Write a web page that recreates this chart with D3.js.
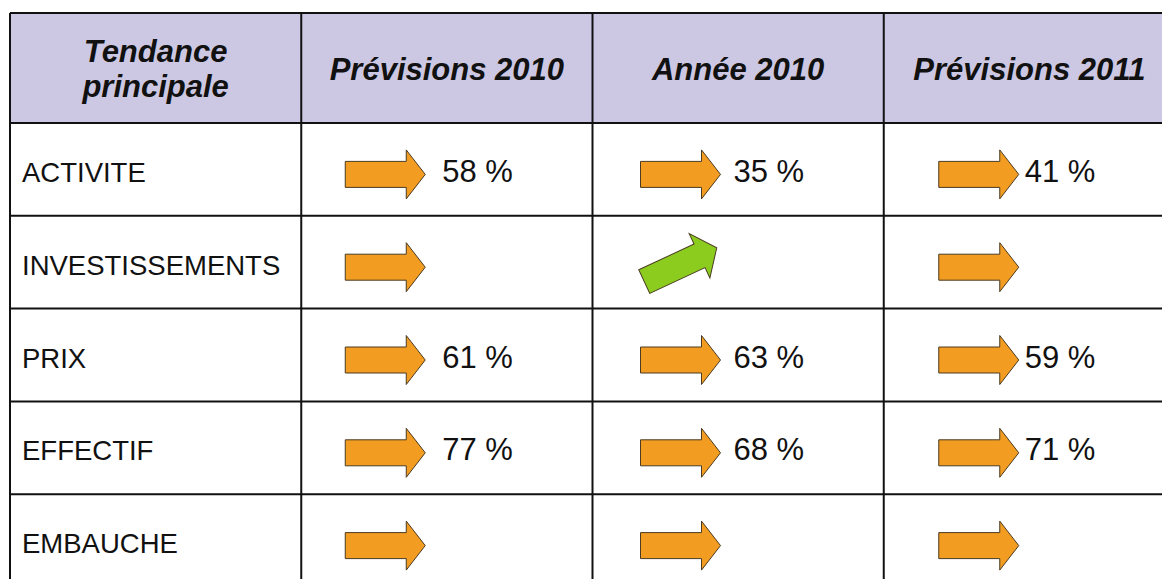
<!DOCTYPE html>
<html>
<head>
<meta charset="utf-8">
<script src="https://cdn.jsdelivr.net/npm/d3@7"></script>
<style>
  body { margin: 0; background: #fff; }
  text { font-family: "Liberation Sans", Arial, sans-serif; fill: #111; }
</style>
</head>
<body>
<div id="chart"></div>
<script>
// table content
const headers = ["Tendance principale", "Prévisions 2010", "Année 2010", "Prévisions 2011"];
const rows = ["ACTIVITE", "INVESTISSEMENTS", "PRIX", "EFFECTIF", "EMBAUCHE"];
const prev2010 = [58, null, 61, 77, null];
const annee2010 = [35, null, 63, 68, null];
const prev2011 = [41, null, 59, 71, null];
// trend per cell: "stable" = horizontal arrow, "hausse" = rising arrow
const trend2010p = ["stable", "stable", "stable", "stable", "stable"];
const trend2010 = ["stable", "hausse", "stable", "stable", "stable"];
const trend2011p = ["stable", "stable", "stable", "stable", "stable"];

const series = [
  { values: prev2010, trends: trend2010p },
  { values: annee2010, trends: trend2010 },
  { values: prev2011, trends: trend2011p }
];

const svg_width = 1162, svg_height = 579;

let svg = d3.select("#chart").append("svg")
  .attr("width", svg_width)
  .attr("height", svg_height);

// columns: label column + 3 value columns, equal width
let x = d3.scaleBand()
  .domain(headers)
  .range([10, 1175])
  .paddingInner(0).paddingOuter(0);

let headerTop = 13, headerBottom = 123;
let y = d3.scaleBand()
  .domain(rows)
  .range([headerBottom, headerBottom + 5 * 92.8]);

// header background
svg.append("rect")
  .attr("x", x.range()[0]).attr("y", headerTop)
  .attr("width", x.range()[1] - x.range()[0])
  .attr("height", headerBottom - headerTop)
  .attr("fill", "#ccc8e4");

// header texts
svg.selectAll(".head")
  .data(headers)
  .enter().append("text")
  .attr("class", "head")
  .attr("text-anchor", "middle")
  .attr("font-size", "31px")
  .attr("font-weight", "bold")
  .attr("font-style", "italic")
  .each(function(d, i) {
    let t = d3.select(this);
    let cx = x(d) + x.bandwidth() / 2;
    if (i === 0) {
      let w = d.split(" ");
      t.append("tspan").attr("x", cx).attr("y", 62).text(w[0]);
      t.append("tspan").attr("x", cx).attr("y", 97).text(w[1]);
    } else {
      t.attr("x", cx).attr("y", 80).text(d);
    }
  });

// row labels
svg.selectAll(".lbl")
  .data(rows)
  .enter().append("text")
  .attr("class", "lbl")
  .attr("x", 22)
  .attr("y", d => y(d) + y.bandwidth() / 2 + 12.5)
  .attr("font-size", "27.5px")
  .text(d => d);

// arrow shape centred on 0,0
const arrowPath = "M-40,-13 L21,-13 L21,-24.5 L40,0 L21,24.5 L21,13 L-40,13 Z";
const arrowInset = [44, 48, 55];

series.forEach(function(s, ci) {
  let col = headers[ci + 1];
  let colLeft = x(col);

  let cells = svg.append("g").selectAll("g")
    .data(rows.map((r, i) => ({ row: r, value: s.values[i], trend: s.trends[i] })))
    .enter().append("g");

  cells.append("path")
    .attr("d", arrowPath)
    .attr("transform", d => {
      let cx = colLeft + arrowInset[ci] + 40;
      let cy = y(d.row) + y.bandwidth() / 2 + (d.trend === "hausse" ? 2.5 : 5);
      return `translate(${cx},${cy})` + (d.trend === "hausse" ? " rotate(-25)" : "");
    })
    .attr("fill", d => d.trend === "hausse" ? "#8ccc1f" : "#f29c21")
    .attr("stroke", "#4a3b22")
    .attr("stroke-width", 1);

  cells.filter(d => d.value != null)
    .append("text")
    .attr("x", colLeft + 141)
    .attr("y", d => y(d.row) + y.bandwidth() / 2 + 12.5)
    .attr("font-size", "31px")
    .text(d => d.value + " %");
});

// grid lines
let grid = svg.append("g")
  .attr("stroke", "#111")
  .attr("stroke-width", 2);

let hLines = [headerTop, headerBottom].concat(rows.map(r => y(r) + y.bandwidth()));
grid.selectAll(".h")
  .data(hLines)
  .enter().append("line")
  .attr("x1", x.range()[0]).attr("x2", x.range()[1])
  .attr("y1", d => d).attr("y2", d => d);

let vLines = headers.map(h => x(h)).concat([x.range()[1]]);
grid.selectAll(".v")
  .data(vLines)
  .enter().append("line")
  .attr("x1", d => d).attr("x2", d => d)
  .attr("y1", headerTop).attr("y2", y.range()[1]);
</script>
</body>
</html>
